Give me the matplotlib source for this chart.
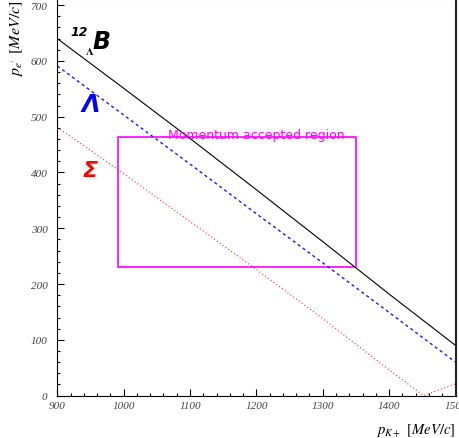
import numpy as np
import matplotlib
matplotlib.use('Agg')
import matplotlib.pyplot as plt
from matplotlib.patches import Rectangle

plt.rcParams['mathtext.fontset'] = 'stix'
plt.rcParams['font.family'] = ['DejaVu Sans']

# momentum of K+ (MeV/c)
pk = [900, 1000, 1100, 1200, 1300, 1400, 1500]
# scattered electron momentum for each final state (MeV/c)
pe_hyp = [640, 551, 461, 369, 276, 182, 90]        # 12_Lambda B
pe_lam = [591, 503, 415, 326, 238, 149, 60]        # Lambda
pk_sig = [900, 1000, 1100, 1200, 1300, 1400, 1452, 1500]
pe_sig = [481, 398, 312, 226, 138, 46, 0, 21]      # Sigma

# acceptance box
acc_pk = [991, 1350]
acc_pe = [230, 463]

fig = plt.figure(figsize=(4.59, 4.39), dpi=100)
ax = fig.add_axes([0.1248, 0.0966, 0.8676, 0.9034])

ax.plot(pk, pe_hyp, color='black', lw=0.8)
ax.plot(pk, pe_lam, color='#1a1aff', lw=1.0, linestyle=(0, (2.2, 2.2)))
ax.plot(pk_sig, pe_sig, color='#ff2a2a', lw=0.9, linestyle=(0, (0.8, 2.0)))

ax.add_patch(Rectangle((acc_pk[0], acc_pe[0]), acc_pk[1] - acc_pk[0], acc_pe[1] - acc_pe[0],
                       fill=False, edgecolor='#ff00ff', lw=1.2))
ax.text(1067, acc_pe[1] - 1, 'Momentum accepted region', color='#ff00ff', fontsize=9,
        ha='left', va='baseline')

# curve labels
ax.text(932.5, 652, '12', fontsize=9, fontweight='bold', style='italic', ha='center', va='center')
ax.text(949.5, 619, r'$\mathbf{\Lambda}$', fontsize=8, ha='center', va='center')
ax.text(967, 635, 'B', fontsize=17, fontweight='bold', style='italic', ha='center', va='center')
ax.text(950, 523, 'Λ', color='#0000ff', fontsize=17, fontweight='bold', style='italic',
        ha='center', va='center')
ax.text(949, 404, 'Σ', color='#ff0000', fontsize=16, fontweight='bold', style='italic',
        ha='center', va='center')

ax.set_xlim(900, 1500)
ax.set_ylim(0, 711)
ax.set_xticks(np.arange(900, 1501, 100))
ax.set_yticks(np.arange(0, 701, 100))
ax.set_xticks(np.arange(900, 1501, 20), minor=True)
ax.set_yticks(np.arange(0, 711, 20), minor=True)
ax.tick_params(which='both', direction='in', top=False, right=False)
ax.tick_params(which='major', length=5, width=0.8)
ax.tick_params(which='minor', length=2.5, width=0.8)
ax.tick_params(axis='y', which='major', pad=7)
ax.tick_params(axis='x', which='major', pad=4)
for lab in ax.get_xticklabels() + ax.get_yticklabels():
    lab.set_fontfamily('Liberation Serif')
    lab.set_fontstyle('italic')
    lab.set_fontsize(8)
    lab.set_color('#444444')

ax.spines['top'].set_color('#cccccc')
ax.spines['right'].set_linewidth(1.5)
ax.spines['right'].set_color('#222222')

ax.set_xlabel(r'$p_{K+}$ $[MeV/c]$', fontsize=10.5, loc='right')
ax.xaxis.set_label_coords(1.0, -0.064)
ax.set_ylabel(r"$p_{e'}$ $[MeV/c]$", fontsize=11.5, loc='top')
ax.yaxis.set_label_coords(-0.081, 1.0)

fig.savefig('out.png', dpi=100)
